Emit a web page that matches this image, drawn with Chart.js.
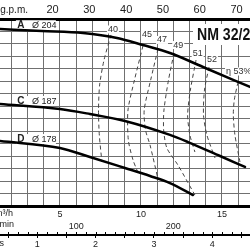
<!DOCTYPE html>
<html>
<head>
<meta charset="utf-8">
<script src="https://cdn.jsdelivr.net/npm/chart.js@4.4.0/dist/chart.umd.min.js"></script>
<style>
  html, body { margin: 0; padding: 0; background: #fff; }
  #wrap { width: 250px; height: 250px; }
</style>
</head>
<body>
<div id="wrap"><canvas id="pumpChart" width="250" height="250"></canvas></div>
<script>
// visible flow window of the crop (m3/h) and head grid (grid units)
const flowMin = 1.3;
const flowMax = 16.73;
const headMax = 15;

// tick labels shown on the four flow axes
const gpmTicks = [20, 30, 40, 50, 60, 70];
const m3hTicks = [5, 10, 15];
const lminTicks = [100, 200];
const lsTicks = [1, 2, 3, 4];

// impeller curves, flow in m3/h, head in grid units
const flowA = [1.3, 3.89, 6.42, 8.52, 10.12, 11.79, 13.83, 16.73];
const headA = [14.2, 14.04, 13.88, 13.48, 12.91, 12.27, 11.15, 9.55];
const flowC = [1.3, 5.0, 6.85, 9.01, 11.79, 12.9, 14.88, 16.42];
const headC = [8.18, 7.78, 7.38, 6.82, 5.7, 5.13, 4.01, 3.13];
const flowD = [1.3, 5.0, 6.85, 9.01, 10.56, 11.79, 13.21];
const headD = [5.21, 4.65, 3.93, 3.05, 2.41, 1.84, 0.88];

// iso-efficiency lines
const eff40Q = [8.15, 7.72, 7.45, 7.38, 7.43, 7.59];
const eff40H = [13.72, 11.71, 9.71, 7.7, 5.69, 3.53];
const eff45Q = [10.12, 9.6, 9.2, 9.22, 9.51, 9.81];
const eff45H = [12.83, 10.11, 7.7, 5.29, 3.69, 2.7];
const eff47Q = [11.05, 10.6, 10.2, 10.28, 10.56, 11.05];
const eff47H = [12.59, 10.11, 7.7, 6.1, 4.89, 2.17];
const eff49Q = [12.04, 11.7, 11.42, 11.4, 11.6, 12.28, 13.33];
const eff49H = [12.27, 10.11, 7.7, 6.1, 4.65, 3.29, 0.88];
const eff51Q = [13.4, 13.05, 12.88, 13.02, 13.33];
const eff51H = [11.71, 9.3, 7.3, 5.69, 4.33];
const eff52Q = [14.2, 13.92, 13.86, 14.07, 14.57];
const eff52H = [11.15, 9.3, 7.3, 5.69, 3.85];
const eff53Q = [15.99, 15.76, 15.7, 15.8, 16.11];
const eff53H = [9.95, 8.5, 7.3, 5.69, 3.53];

// label anchors (data units)
const curveNames = ['A', 'C', 'D'];
const curveDias = ['Ø 204', 'Ø 187', 'Ø 178'];
const curveLabelQ = [2.59, 2.59, 2.59];
const curveLabelH = [14.5, 8.42, 5.37];
const effNames = ['40', '45', '47', '49', '51', '52', 'η 53%'];
const effLabelQ = [8.27, 10.37, 11.3, 12.3, 13.5, 14.38, 15.25];
const effLabelH = [14.16, 13.72, 13.32, 12.91, 12.27, 11.71, 10.79];

const GPM = 4.40287;  // US gpm per m3/h
const LMIN = 16.6667; // l/min per m3/h
const LS = 1 / 3.6;   // l/s per m3/h

const gridColor = '#707070';
const textColor = '#222';

function pts(qs, hs) {
  return qs.map((q, i) => ({ x: q, y: hs[i] }));
}

function pumpCurve(qs, hs) {
  return {
    data: pts(qs, hs),
    borderColor: '#000',
    borderWidth: 2.5,
    borderCapStyle: 'round',
    pointRadius: 0,
    cubicInterpolationMode: 'monotone'
  };
}

function effCurve(qs, hs) {
  return {
    data: pts(qs, hs),
    borderColor: '#444',
    borderWidth: 1,
    borderDash: [4, 3],
    pointRadius: 0,
    tension: 0.25
  };
}

// labels, title and unit names
const textPlugin = {
  id: 'pumpText',
  beforeDatasetsDraw(chart) {
    const ctx = chart.ctx;
    const xs = chart.scales.x, ys = chart.scales.y;
    ctx.save();
    ctx.textBaseline = 'middle';
    curveNames.forEach((n, i) => {
      const px = xs.getPixelForValue(curveLabelQ[i]);
      const py = ys.getPixelForValue(curveLabelH[i]);
      ctx.fillStyle = '#fff';
      ctx.fillRect(px - 5, py - 5, 40, 10);
      ctx.fillStyle = textColor;
      ctx.font = 'bold 10px "Liberation Sans", Arial, sans-serif';
      ctx.textAlign = 'center';
      ctx.fillText(n, px, py);
      ctx.font = '9px "Liberation Sans", Arial, sans-serif';
      ctx.textAlign = 'left';
      ctx.fillText(curveDias[i], px + 11, py);
    });
    ctx.font = '9px "Liberation Sans", Arial, sans-serif';
    effNames.forEach((n, i) => {
      const px = xs.getPixelForValue(effLabelQ[i]);
      const py = ys.getPixelForValue(effLabelH[i]);
      const w = ctx.measureText(n).width;
      const last = i === effNames.length - 1;
      const left = last ? px : px - w / 2;
      ctx.fillStyle = '#fff';
      ctx.fillRect(left - 1, py - 4, w + 2, 8);
      ctx.fillStyle = '#333';
      ctx.textAlign = 'left';
      ctx.fillText(n, left, py);
    });
    // title box
    ctx.fillStyle = '#fff';
    ctx.fillRect(193, 24, 57, 21);
    ctx.fillStyle = '#111';
    ctx.font = 'bold 17px "Liberation Sans", Arial, sans-serif';
    ctx.textAlign = 'left';
    ctx.translate(197, 35);
    ctx.scale(0.83, 1);
    ctx.fillText('NM 32/20', 0, 0);
    ctx.restore();
  },
  afterDraw(chart) {
    const ctx = chart.ctx;
    const lmin = chart.scales.lmin, ls = chart.scales.ls;
    ctx.save();
    // minor l/min ticks on the lower scale line
    ctx.strokeStyle = '#000';
    ctx.lineWidth = 1;
    for (let v = 10; v <= 280; v += 10) {
      const px = Math.round(lmin.getPixelForValue(v)) + 0.5;
      ctx.beginPath();
      ctx.moveTo(px, ls.top - 3);
      ctx.lineTo(px, ls.top);
      ctx.stroke();
    }
    ctx.fillStyle = textColor;
    ctx.textBaseline = 'middle';
    ctx.textAlign = 'right';
    ctx.font = '10px "Liberation Sans", Arial, sans-serif';
    ctx.fillText('U.S. g.p.m.', 28, 10);
    ctx.font = '9px "Liberation Sans", Arial, sans-serif';
    ctx.fillText('m³/h', 13, 214);
    ctx.fillText('l/min', 14, 225);
    ctx.fillText('l/s', 4, 244);
    ctx.restore();
  }
};

function flatFit(h) {
  return s => { s.height = h; s.paddingLeft = 0; s.paddingRight = 0; };
}

new Chart(document.getElementById('pumpChart'), {
  type: 'line',
  data: {
    datasets: [
      pumpCurve(flowA, headA),
      pumpCurve(flowC, headC),
      pumpCurve(flowD, headD),
      effCurve(eff40Q, eff40H),
      effCurve(eff45Q, eff45H),
      effCurve(eff47Q, eff47H),
      effCurve(eff49Q, eff49H),
      effCurve(eff51Q, eff51H),
      effCurve(eff52Q, eff52H),
      effCurve(eff53Q, eff53H)
    ]
  },
  options: {
    responsive: false,
    animation: false,
    devicePixelRatio: 1,
    layout: { padding: 0 },
    plugins: { legend: { display: false }, tooltip: { enabled: false } },
    scales: {
      x: {
        type: 'linear', position: 'bottom', weight: 0,
        min: flowMin, max: flowMax,
        grid: { color: gridColor, lineWidth: 1, drawTicks: false },
        border: { display: true, color: '#000', width: 3 },
        ticks: {
          stepSize: 1, includeBounds: false, autoSkip: false, maxRotation: 0,
          padding: 3, color: textColor, font: { size: 9 },
          callback: v => m3hTicks.includes(v) ? String(v) : ''
        },
        afterFit: flatFit(14)
      },
      lmin: {
        type: 'linear', position: 'bottom', weight: 1,
        min: flowMin * LMIN, max: flowMax * LMIN,
        grid: { display: false, drawTicks: false },
        border: { display: false },
        ticks: {
          stepSize: 50, includeBounds: false, autoSkip: false, maxRotation: 0,
          padding: 1, color: textColor, font: { size: 9 },
          callback: v => lminTicks.includes(v) ? String(v) : ''
        },
        afterFit: flatFit(15)
      },
      ls: {
        type: 'linear', position: 'bottom', weight: 2,
        min: flowMin * LS, max: flowMax * LS,
        grid: { display: true, drawOnChartArea: false, drawTicks: true, tickLength: 3, color: '#000' },
        border: { display: true, color: '#000', width: 2 },
        ticks: {
          stepSize: 0.5, includeBounds: false, autoSkip: false, maxRotation: 0,
          padding: 1, color: textColor, font: { size: 9 },
          callback: v => lsTicks.includes(v) ? String(v) : ''
        },
        afterFit: flatFit(15)
      },
      gpm: {
        type: 'linear', position: 'top', weight: 0,
        min: flowMin * GPM, max: flowMax * GPM,
        grid: { display: false, drawTicks: false },
        border: { display: true, color: '#000', width: 3 },
        ticks: {
          stepSize: 10, includeBounds: false, autoSkip: false, maxRotation: 0,
          padding: 2, color: textColor, font: { size: 11 },
          callback: v => gpmTicks.includes(v) ? String(v) : ''
        },
        afterFit: flatFit(19)
      },
      y: {
        type: 'linear', position: 'left',
        min: 0, max: headMax,
        grid: { color: gridColor, lineWidth: 1, drawTicks: false },
        border: { display: false },
        ticks: { display: false, stepSize: 1 },
        afterFit: s => { s.width = 0; }
      }
    }
  },
  plugins: [textPlugin]
});
</script>
</body>
</html>
